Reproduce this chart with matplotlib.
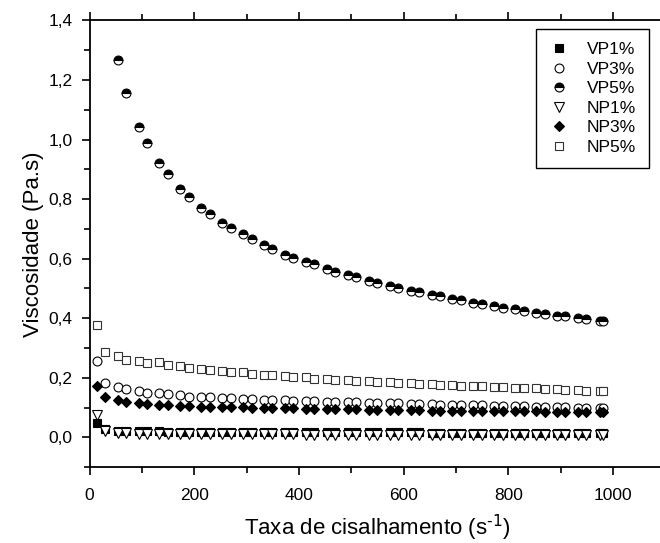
import numpy as np
import matplotlib
matplotlib.use('Agg')
import matplotlib.pyplot as plt
from matplotlib.ticker import MultipleLocator, FuncFormatter

plt.rcParams['font.family'] = ['Liberation Sans', 'DejaVu Sans']
plt.rcParams['mathtext.default'] = 'regular'

# Shear rate (s^-1)
shear_rate = [13.5, 29.5, 53.5, 69.5, 93.5, 109.5, 133.5, 149.5, 173.5, 189.5,
              213.5, 229.5, 253.5, 269.5, 293.5, 309.5, 333.5, 349.5, 373.5, 389.5,
              413.5, 429.5, 453.5, 469.5, 493.5, 509.5, 533.5, 549.5, 573.5, 589.5,
              613.5, 629.5, 653.5, 669.5, 693.5, 709.5, 733.5, 749.5, 773.5, 789.5,
              813.5, 829.5, 853.5, 869.5, 893.5, 909.5, 933.5, 949.5, 975.0, 981.0]

vp1 = [0.047, 0.028, 0.022, 0.021, 0.020, 0.020, 0.020, 0.019, 0.019, 0.019,
       0.019, 0.019, 0.018, 0.018, 0.018, 0.018, 0.018, 0.018, 0.018, 0.017,
       0.017, 0.017, 0.017, 0.017, 0.017, 0.017, 0.017, 0.017, 0.017, 0.017,
       0.017, 0.017, 0.016, 0.016, 0.016, 0.016, 0.016, 0.016, 0.016, 0.016,
       0.016, 0.016, 0.016, 0.016, 0.016, 0.016, 0.016, 0.016, 0.016, 0.016]

vp3 = [0.257, 0.183, 0.170, 0.161, 0.157, 0.150, 0.148, 0.144, 0.142, 0.137,
       0.136, 0.134, 0.133, 0.131, 0.130, 0.129, 0.127, 0.126, 0.124, 0.123,
       0.122, 0.121, 0.120, 0.119, 0.118, 0.117, 0.116, 0.115, 0.115, 0.114,
       0.113, 0.112, 0.111, 0.110, 0.109, 0.108, 0.107, 0.107, 0.106, 0.105,
       0.104, 0.104, 0.103, 0.102, 0.101, 0.101, 0.100, 0.099, 0.098, 0.097]

vp5 = [np.nan, np.nan, 1.267, 1.156, 1.041, 0.988, 0.920, 0.883, 0.833, 0.808,
       0.770, 0.749, 0.719, 0.702, 0.682, 0.666, 0.646, 0.633, 0.612, 0.602,
       0.590, 0.581, 0.566, 0.555, 0.545, 0.537, 0.525, 0.519, 0.508, 0.500,
       0.492, 0.488, 0.478, 0.475, 0.465, 0.460, 0.452, 0.449, 0.441, 0.435,
       0.430, 0.425, 0.419, 0.415, 0.408, 0.406, 0.400, 0.396, 0.392, 0.391]

np1 = [0.075, 0.022, 0.014, 0.013, 0.012, 0.012, 0.012, 0.011, 0.011, 0.011,
       0.011, 0.011, 0.010, 0.010, 0.010, 0.010, 0.010, 0.010, 0.010, 0.010,
       0.009, 0.009, 0.009, 0.009, 0.009, 0.009, 0.009, 0.009, 0.009, 0.009,
       0.008, 0.008, 0.008, 0.008, 0.008, 0.008, 0.008, 0.008, 0.008, 0.008,
       0.008, 0.008, 0.007, 0.007, 0.007, 0.007, 0.007, 0.007, 0.007, 0.007]

np3 = [0.172, 0.136, 0.125, 0.120, 0.114, 0.112, 0.108, 0.108, 0.105, 0.105,
       0.103, 0.103, 0.103, 0.101, 0.101, 0.100, 0.099, 0.098, 0.097, 0.097,
       0.096, 0.096, 0.095, 0.095, 0.094, 0.094, 0.093, 0.093, 0.092, 0.092,
       0.091, 0.091, 0.090, 0.090, 0.089, 0.089, 0.089, 0.088, 0.088, 0.088,
       0.087, 0.087, 0.087, 0.086, 0.086, 0.086, 0.085, 0.085, 0.085, 0.084]

np5 = [0.377, 0.288, 0.274, 0.260, 0.257, 0.251, 0.252, 0.244, 0.240, 0.232,
       0.229, 0.225, 0.224, 0.220, 0.219, 0.214, 0.210, 0.210, 0.206, 0.202,
       0.201, 0.197, 0.197, 0.193, 0.192, 0.190, 0.189, 0.186, 0.185, 0.182,
       0.181, 0.179, 0.178, 0.176, 0.175, 0.174, 0.173, 0.172, 0.170, 0.168,
       0.167, 0.166, 0.165, 0.163, 0.161, 0.159, 0.158, 0.157, 0.156, 0.155]

labels = ['VP1%', 'VP3%', 'VP5%', 'NP1%', 'NP3%', 'NP5%']
y_ticks = [0.0, 0.2, 0.4, 0.6, 0.8, 1.0, 1.2, 1.4]
x_ticks = [0, 200, 400, 600, 800, 1000]

fig = plt.figure(figsize=(6.6, 5.43), dpi=100)
ax = fig.add_axes([0.1358, 0.1398, 0.872, 0.8225])

series = [vp1, vp3, vp5, np1, np3, np5]
styles = [
    dict(marker='s', ms=5.5, mfc='black', mec='black'),
    dict(marker='o', ms=6.4, mfc='white', mec='black'),
    dict(marker='o', ms=6.4, mfc='black', mec='black', fillstyle='top', markerfacecoloralt='white'),
    dict(marker='v', ms=6.5, mfc='white', mec='black'),
    dict(marker='D', ms=4.8, mfc='black', mec='black'),
    dict(marker='s', ms=5.5, mfc='white', mec='#333333'),
]
for vals, lab, st in zip(series, labels, styles):
    ax.plot(shear_rate, vals, linestyle='none', mew=0.8, label=lab, **st)

ax.set_xlim(0, 1100)
ax.set_ylim(-0.1, 1.4)
ax.set_xticks(x_ticks)
ax.set_yticks(y_ticks)
ax.xaxis.set_minor_locator(MultipleLocator(100))
ax.yaxis.set_minor_locator(MultipleLocator(0.1))
ax.yaxis.set_major_formatter(FuncFormatter(lambda v, p: f"{v:.1f}".replace('.', ',')))

ax.tick_params(which='major', direction='out', length=6, width=1.2, labelsize=12.5, top=True)
ax.tick_params(which='minor', direction='out', length=4, width=1.2, top=True)
ax.tick_params(axis='x', which='major', pad=9)
ax.tick_params(axis='y', which='major', pad=6.5)
for s in ax.spines.values():
    s.set_linewidth(1.3)

ax.set_xlabel('Taxa de cisalhamento (s$^{\\text{-1}}$)', fontsize=16, labelpad=7)
ax.set_ylabel('Viscosidade (Pa.s)', fontsize=16, labelpad=3)

leg = ax.legend(loc='upper right', bbox_to_anchor=(649.3 / 660, 1 - 29.3 / 543),
                bbox_transform=fig.transFigure, borderaxespad=0, fontsize=12.5,
                frameon=True, fancybox=False, framealpha=1, edgecolor='black',
                borderpad=0.75, labelspacing=0.25, handlelength=1.2, handletextpad=1.0)
leg.get_frame().set_linewidth(1.0)

fig.savefig('out.png', dpi=100)
